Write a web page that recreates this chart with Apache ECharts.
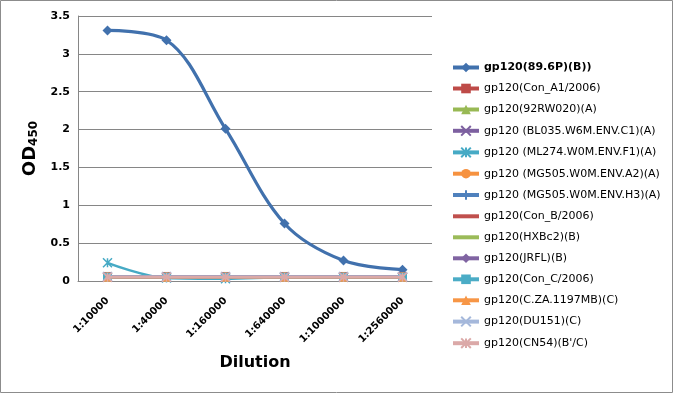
<!DOCTYPE html>
<html><head><meta charset="utf-8">
<script src="https://cdn.jsdelivr.net/npm/echarts@6/dist/echarts.min.js"></script>
<style>html,body{margin:0;padding:0;background:#fff}#c{width:673px;height:393px}</style>
</head><body><div id="c"></div>
<script>
const categories = ['1:10000','1:40000','1:160000','1:640000','1:1000000','1:2560000'];
const seriesNames = [
  'gp120(89.6P)(B))','gp120(Con_A1/2006)','gp120(92RW020)(A)','gp120 (BL035.W6M.ENV.C1)(A)',
  'gp120 (ML274.W0M.ENV.F1)(A)','gp120 (MG505.W0M.ENV.A2)(A)','gp120 (MG505.W0M.ENV.H3)(A)',
  'gp120(Con_B/2006)','gp120(HXBc2)(B)','gp120(JRFL)(B)','gp120(Con_C/2006)',
  'gp120(C.ZA.1197MB)(C)','gp120(DU151)(C)','gp120(CN54)(B\'/C)'];
const v896P   = [3.31, 3.18, 2.01, 0.76, 0.27, 0.15];
const vConA1  = [0.06, 0.06, 0.06, 0.06, 0.06, 0.06];
const v92RW   = [0.05, 0.05, 0.05, 0.05, 0.05, 0.05];
const vBL035  = [0.05, 0.05, 0.05, 0.05, 0.05, 0.05];
const vML274  = [0.24, 0.04, 0.03, 0.05, 0.05, 0.05];
const vMG505A2= [0.06, 0.06, 0.06, 0.06, 0.06, 0.06];
const vMG505H3= [0.05, 0.05, 0.05, 0.05, 0.05, 0.05];
const vConB   = [0.06, 0.06, 0.06, 0.06, 0.06, 0.06];
const vHXBc2  = [0.05, 0.05, 0.05, 0.05, 0.05, 0.05];
const vJRFL   = [0.05, 0.05, 0.05, 0.05, 0.05, 0.05];
const vConC   = [0.05, 0.05, 0.05, 0.05, 0.05, 0.05];
const vCZA    = [0.05, 0.05, 0.05, 0.05, 0.05, 0.05];
const vDU151  = [0.06, 0.06, 0.06, 0.06, 0.06, 0.06];
const vCN54   = [0.05, 0.05, 0.05, 0.05, 0.05, 0.05];
const yTicks  = [0, 0.5, 1, 1.5, 2, 2.5, 3, 3.5];

const allValues = [v896P,vConA1,v92RW,vBL035,vML274,vMG505A2,vMG505H3,vConB,vHXBc2,vJRFL,vConC,vCZA,vDU151,vCN54];
const colors = ['#4171ad','#be4b48','#98b954','#7d60a0','#46aac5','#f69240','#4f81bd','#c0504d','#9bbb59','#8064a2','#4bacc6','#f79646','#a5b8db','#dba9a8'];
const X = 'path://M0,0L10,10M10,0L0,10';
const STAR = 'path://M0,0L10,10M10,0L0,10M5,0L5,10';
const PLUS = 'path://M5,0L5,10M0,5L10,5';
const symbols = ['diamond','rect','triangle',X,STAR,'circle',PLUS,'none','none','diamond','rect','triangle',X,STAR];
const strokeSym = {};
strokeSym[X]=1; strokeSym[STAR]=1; strokeSym[PLUS]=1;

const series = allValues.map((vals,i)=>({
  name: seriesNames[i], type:'line', data: vals, smooth: 0.35,
  symbol: symbols[i] === 'none' ? 'circle' : symbols[i], symbolSize: i===0 ? 10 : 9,
  showSymbol: symbols[i] !== 'none',
  lineStyle:{color:colors[i], width: i===0 ? 3.2 : 2.5},
  itemStyle:{color:colors[i], borderColor:colors[i], borderWidth: strokeSym[symbols[i]] ? 1.5 : 0},
  z: 2 + i
}));

const legendData = seriesNames.map((n,i)=> symbols[i]==='none' ? {name:n, itemStyle:{opacity:0}} : {name:n});

const chart = echarts.init(document.getElementById('c'));
chart.setOption({
  animation:false,
  textStyle:{fontFamily:'DejaVu Sans'},
  graphic:[{type:'rect', shape:{x:0.5,y:0.5,width:672,height:392}, style:{fill:'none', stroke:'#8c8c8c', lineWidth:1}, silent:true}],
  grid:{left:78, right:241, top:16, bottom:112, containLabel:false},
  legend:{
    orient:'vertical', left:446, top:57, itemGap:10, itemWidth:26, itemHeight:12,
    lineStyle:{width:4},
    textStyle:{fontSize:11, color:'#000', fontFamily:'DejaVu Sans', rich:{b:{fontSize:11, fontWeight:'bold', color:'#000', fontFamily:'DejaVu Sans'}}},
    formatter: n => n === seriesNames[0] ? '{b|' + n + '}' : n,
    data: legendData
  },
  xAxis:{
    type:'category', data: categories, boundaryGap:true,
    axisLine:{lineStyle:{color:'#868686'}}, axisTick:{show:false},
    axisLabel:{rotate:45, fontSize:10, fontWeight:'bold', color:'#000', margin:18, interval:0},
    name:'Dilution', nameLocation:'middle', nameGap:74,
    nameTextStyle:{fontSize:16, fontWeight:'bold', color:'#000'}
  },
  yAxis:{
    type:'value', min:yTicks[0], max:yTicks[yTicks.length-1], interval:0.5,
    axisLine:{show:true, lineStyle:{color:'#868686'}}, axisTick:{show:false},
    splitLine:{lineStyle:{color:'#868686'}},
    axisLabel:{fontSize:11, fontWeight:'bold', color:'#000', margin:8},
    name:'{a|OD}{b|450}', nameLocation:'middle', nameRotate:90, nameGap:34,
    nameTextStyle:{rich:{
      a:{fontSize:18, fontWeight:'bold', color:'#000', lineHeight:20, verticalAlign:'bottom', fontFamily:'DejaVu Sans'},
      b:{fontSize:12, fontWeight:'bold', color:'#000', lineHeight:10, verticalAlign:'bottom', fontFamily:'DejaVu Sans'}
    }}
  },
  series: series
});
</script></body></html>
